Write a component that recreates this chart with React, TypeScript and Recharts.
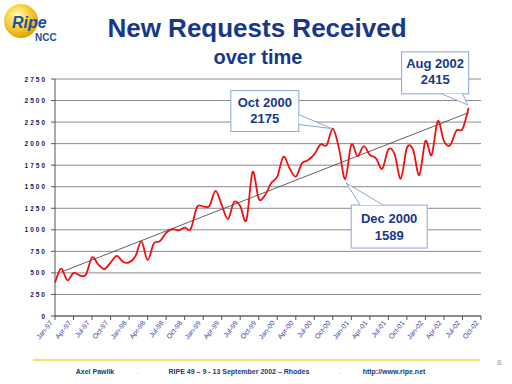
import React from "react"
import { LineChart, Line, XAxis, YAxis, CartesianGrid, ReferenceDot } from "recharts"

// monthly new requests, Jan-97 .. Aug-02
const requests = [
  390, 550, 415, 500, 472, 478, 680, 600, 545, 620, 698, 630,
  622, 690, 865, 650, 840, 868, 965, 1008, 995, 1025, 1012, 1265,
  1272, 1275, 1452, 1290, 1125, 1322, 1275, 1112, 1672, 1360, 1400, 1540,
  1616, 1848, 1713, 1618, 1771, 1810, 1876, 1990, 1982, 2175, 1945, 1589,
  1988, 1855, 1970, 1870, 1830, 1708, 1934, 1880, 1592, 1950, 1930, 1636,
  2030, 1868, 2262, 2030, 1982, 2150, 2170, 2415,
]

const tickLabels = [
  "Jan-97", "Apr-97", "Jul-97", "Oct-97", "Jan-98", "Apr-98", "Jul-98", "Oct-98",
  "Jan-99", "Apr-99", "Jul-99", "Oct-99", "Jan-00", "Apr-00", "Jul-00", "Oct-00",
  "Jan-01", "Apr-01", "Jul-01", "Oct-01", "Jan-02", "Apr-02", "Jul-02", "Oct-02",
]

const yTicks = [0, 250, 500, 750, 1000, 1250, 1500, 1750, 2000, 2250, 2500, 2750]

// trendline end points as drawn (month index, value)
const trendMonths = [1, 67]
const trendValues = [510, 2360]

const calloutMonths = [45, 47, 67]
const calloutTitles = ["Oct 2000", "Dec 2000", "Aug 2002"]

const requestData = requests.map((v, m) => ({ m, v }))
const trendData = trendMonths.map((m, i) => ({ m, v: trendValues[i] }))
const xTicks = tickLabels.map((_, i) => i * 3)

const BLUE = "#17388a"
const FONT = "'Liberation Sans', Arial, sans-serif"

// smoothed line roughly like Excel's (catmull-rom style bezier)
const excelSmooth = (context: any) => {
  let pts: number[][] = []
  return {
    areaStart() {},
    areaEnd() {},
    lineStart() {
      pts = []
    },
    lineEnd() {
      if (!pts.length) return
      context.moveTo(pts[0][0], pts[0][1])
      for (let i = 0; i < pts.length - 1; i++) {
        const p0 = pts[Math.max(i - 1, 0)]
        const p1 = pts[i]
        const p2 = pts[i + 1]
        const p3 = pts[Math.min(i + 2, pts.length - 1)]
        context.bezierCurveTo(
          p1[0] + (p2[0] - p0[0]) / 6, p1[1] + (p2[1] - p0[1]) / 6,
          p2[0] - (p3[0] - p1[0]) / 6, p2[1] - (p3[1] - p1[1]) / 6,
          p2[0], p2[1],
        )
      }
    },
    point(x: number, y: number) {
      pts.push([+x, +y])
    },
  }
}

const YTick = ({ x, y, payload }: any) => (
  <text x={x} y={y + 2.5} textAnchor="end" fill="#15156a" fontSize={6.5} fontWeight="bold" letterSpacing={2} fontFamily={FONT}>
    {payload.value}
  </text>
)

const XTick = ({ x, y, payload }: any) => (
  <text
    transform={`translate(${x - 2},${y + 1}) rotate(-52)`}
    textAnchor="end"
    fill="#3a3aa0"
    fontSize={7}
    fontFamily={FONT}
  >
    {tickLabels[payload.value / 3]}
  </text>
)

type Layout = {
  left: number
  top: number
  w: number
  h: number
  wedge: number[] // base1 x,y  tip x,y  base2 x,y, relative to the point
  l1: number
  l2: number
}

const layouts: Layout[] = [
  { left: -102, top: -38, w: 68, h: 41, wedge: [-34, -14, -1, 0, -34, -4], l1: 16, l2: 32 },
  { left: 6, top: 26, w: 76, h: 43, wedge: [15, 26, 1, 4, 38, 26], l1: 18, l2: 35 },
  { left: -67, top: -56, w: 67, h: 42, wedge: [-27, -14, -1, -3, -6, -14], l1: 16, l2: 32 },
]

const Callout = ({ cx, cy, layout, title, value }: any) => {
  const { left, top, w, h, wedge, l1, l2 } = layout as Layout
  const x0 = cx + left
  const y0 = cy + top
  const tx = x0 + w / 2
  return (
    <g>
      <rect x={x0} y={y0} width={w} height={h} fill="#fff" stroke="#8ea6cc" strokeWidth={1} />
      <polyline
        points={`${cx + wedge[0]},${cy + wedge[1]} ${cx + wedge[2]},${cy + wedge[3]} ${cx + wedge[4]},${cy + wedge[5]}`}
        fill="#fff"
        stroke="#8ea6cc"
        strokeWidth={1}
      />
      <text x={tx} y={y0 + l1} textAnchor="middle" fill={BLUE} fontSize={13} fontWeight="bold" fontFamily={FONT}>
        {title}
      </text>
      <text x={tx} y={y0 + l2} textAnchor="middle" fill={BLUE} fontSize={13} fontWeight="bold" fontFamily={FONT}>
        {value}
      </text>
    </g>
  )
}

const Decorations = () => (
  <svg width={512} height={384} style={{ position: "absolute", left: 0, top: 0 }}>
    <defs>
      <radialGradient id="ball" cx="40%" cy="35%" r="65%">
        <stop offset="0%" stopColor="#fffbd0" />
        <stop offset="45%" stopColor="#fbd84a" />
        <stop offset="100%" stopColor="#e2a400" />
      </radialGradient>
    </defs>
    <circle cx={21} cy={21} r={17} fill="url(#ball)" />
    <text x={12} y={28} fill="#1d4fa0" fontSize={16} fontWeight="bold" fontStyle="italic" fontFamily={FONT}>
      Ripe
    </text>
    <text x={35} y={41} fill="#1d4fa0" fontSize={10} fontWeight="bold" fontFamily={FONT}>
      NCC
    </text>
    <text x={257} y={37} textAnchor="middle" fill={BLUE} fontSize={26} fontWeight="bold" fontFamily={FONT}>
      New Requests Received
    </text>
    <text x={258} y={64} textAnchor="middle" fill={BLUE} fontSize={20} fontWeight="bold" fontFamily={FONT}>
      over time
    </text>
    <line x1={33} y1={360} x2={480} y2={360} stroke="#f2d34a" strokeWidth={1.5} />
    <text x={497} y={365} fill="#9a9a9a" fontSize={8} fontFamily={FONT}>
      8
    </text>
    <g fill={BLUE} fontSize={7} fontWeight="bold" fontFamily={FONT} textAnchor="middle">
      <text x={95} y={374}>Axel Pawlik</text>
      <text x={239} y={374}>RIPE 49 – 9 - 13 September 2002 – Rhodes</text>
      <text x={394} y={374}>http://www.ripe.net</text>
    </g>
    <g fill="#e6d68a" fontSize={7} fontWeight="bold" fontFamily={FONT} textAnchor="middle">
      <text x={138} y={374}>.</text>
      <text x={340} y={374}>.</text>
    </g>
  </svg>
)

export default function App() {
  return (
    <div style={{ position: "absolute", left: 0, top: 0, width: 512, height: 384, background: "#fff" }}>
      <Decorations />
      <div style={{ position: "absolute", left: 0, top: 0 }}>
        <LineChart width={512} height={384} data={requestData} margin={{ top: 79, right: 31, bottom: 18, left: 0 }}>
          <CartesianGrid horizontal vertical={false} stroke="#8a8a8a" strokeWidth={1} />
          <XAxis
            dataKey="m"
            type="number"
            domain={[0, 69]}
            ticks={xTicks}
            interval={0}
            height={50}
            tick={<XTick />}
            tickSize={4}
            tickMargin={2}
            stroke="#555"
          />
          <YAxis
            type="number"
            domain={[0, 2750]}
            ticks={yTicks}
            interval={0}
            width={55}
            tick={<YTick />}
            tickSize={4}
            tickMargin={4}
            stroke="#555"
          />
          <Line
            data={trendData}
            dataKey="v"
            type="linear"
            stroke="#3a3a3a"
            strokeWidth={0.8}
            dot={false}
            isAnimationActive={false}
          />
          <Line
            dataKey="v"
            type={excelSmooth as any}
            stroke="#f01010"
            strokeWidth={1.8}
            dot={false}
            isAnimationActive={false}
          />
          {calloutMonths.map((m, i) => (
            <ReferenceDot
              key={m}
              x={m}
              y={requests[m]}
              ifOverflow="visible"
              shape={(p: any) => (
                <Callout cx={p.cx} cy={p.cy} layout={layouts[i]} title={calloutTitles[i]} value={requests[m]} />
              )}
            />
          ))}
        </LineChart>
      </div>
    </div>
  )
}
